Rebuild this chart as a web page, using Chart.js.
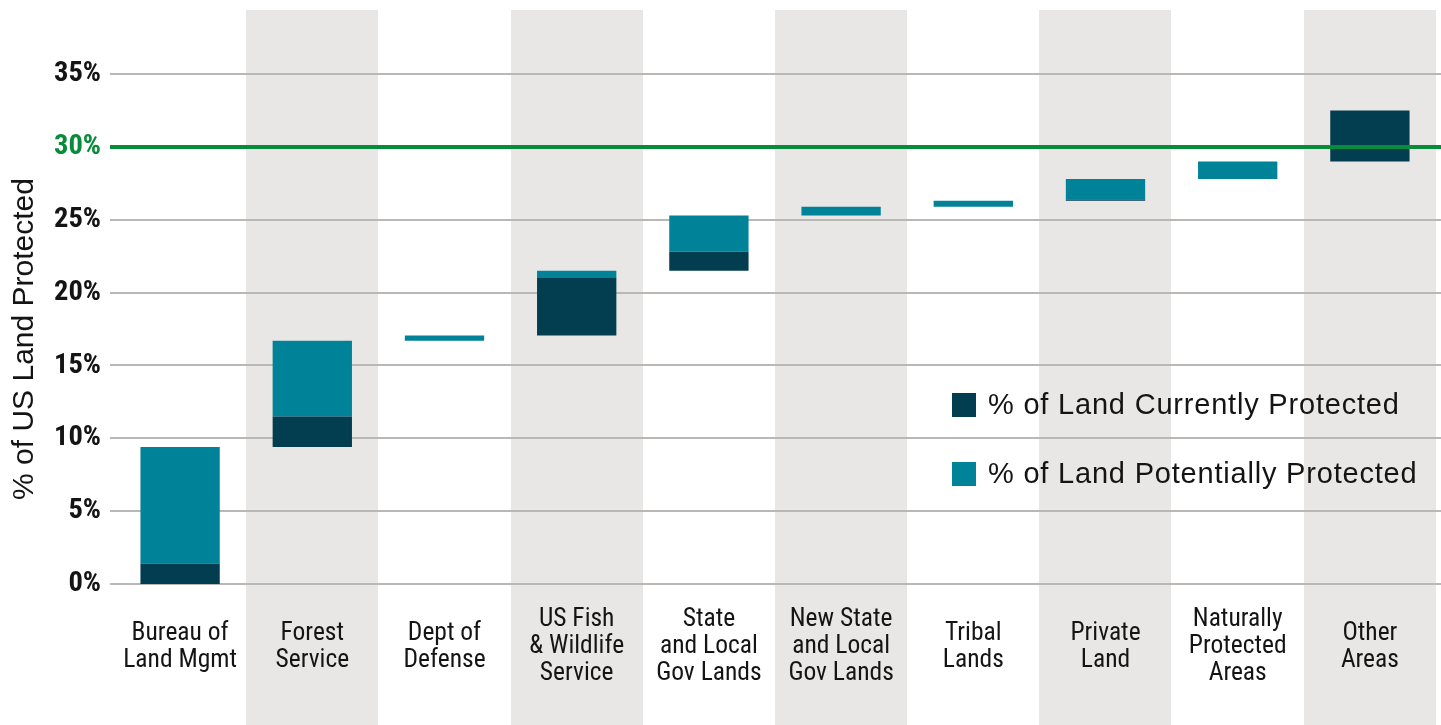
<!DOCTYPE html>
<html><head><meta charset="utf-8">
<script src="https://cdn.jsdelivr.net/npm/chart.js@4.4.1/dist/chart.umd.min.js"></script>
<style>html,body{margin:0;padding:0;background:#fff;overflow:hidden}#wrap{width:1441px;height:725px;position:relative}</style>
</head><body><div id="wrap"><canvas id="c" width="1441" height="725"></canvas></div>
<script>
const categories = [["Bureau of","Land Mgmt"],["Forest","Service"],["Dept of","Defense"],["US Fish","& Wildlife","Service"],["State","and Local","Gov Lands"],["New State","and Local","Gov Lands"],["Tribal","Lands"],["Private","Land"],["Naturally","Protected","Areas"],["Other","Areas"]];
const currentlyProtected   = [1.4, 2.1, 0,    3.95, 1.3, 0,   0,   0.1, 0,   3.5];
const potentiallyProtected = [8.0, 5.2, 0.35, 0.5,  2.5, 0.6, 0.4, 1.4, 1.2, 0];
const yTickValues = [0, 5, 10, 15, 20, 25, 30, 35];
const targetLevel = 30;
const seriesLabels = ["% of Land Currently Protected", "% of Land Potentially Protected"];
const seriesColors = ["#033d50", "#008299"];

// waterfall ranges built from the amounts above
const currentRanges = [], potentialRanges = [];
let running = 0;
for (let i = 0; i < categories.length; i++) {
  const a = running, b = a + currentlyProtected[i], c = b + potentiallyProtected[i];
  currentRanges.push(currentlyProtected[i] > 0 ? [a, b] : null);
  potentialRanges.push(potentiallyProtected[i] > 0 ? [b, c] : null);
  running = c;
}

const NARROW = "'Liberation Sans Narrow', 'Roboto Condensed', 'Roboto', sans-serif";
const SANS = "'Liberation Sans', 'Helvetica', sans-serif";
const TEXT = "#141414";

const decor = {
  id: 'decor',
  beforeDraw(chart) {
    const {ctx, scales: {x}} = chart;
    const w = x.getPixelForValue(1) - x.getPixelForValue(0);
    ctx.save();
    ctx.fillStyle = '#e8e7e5';
    for (let i = 1; i < categories.length; i += 2) {
      const cx = x.getPixelForValue(i);
      ctx.fillRect(Math.round(cx - w / 2), 10, Math.round(w), chart.height - 10);
    }
    ctx.restore();
  },
  beforeDatasetsDraw(chart) {
    const {ctx, scales: {y}} = chart;
    ctx.save();
    ctx.strokeStyle = '#bab8b5';
    ctx.lineWidth = 2;
    yTickValues.forEach(v => {
      if (v === targetLevel) return;
      const py = Math.round(y.getPixelForValue(v));
      ctx.beginPath(); ctx.moveTo(110, py); ctx.lineTo(chart.width, py); ctx.stroke();
    });
    ctx.restore();
  },
  afterDatasetsDraw(chart) {
    const {ctx, scales: {y}} = chart;
    const py = y.getPixelForValue(targetLevel);
    ctx.save();
    ctx.strokeStyle = '#088c3a';
    ctx.lineWidth = 4;
    ctx.beginPath(); ctx.moveTo(110, py); ctx.lineTo(chart.width, py); ctx.stroke();
    ctx.restore();
  },
  afterDraw(chart) {
    const {ctx} = chart;
    ctx.save();
    // y axis title
    ctx.translate(25, 339);
    ctx.rotate(-Math.PI / 2);
    ctx.fillStyle = TEXT;
    ctx.font = "30px " + SANS;
    ctx.textAlign = 'center';
    ctx.textBaseline = 'middle';
    ctx.fillText("% of US Land Protected", 0, 0);
    ctx.restore();
    // legend
    ctx.save();
    ctx.font = "29px " + SANS;
    ctx.letterSpacing = '0.8px';
    ctx.textBaseline = 'middle';
    ctx.textAlign = 'left';
    chart.data.datasets.forEach((ds, i) => {
      const cy = 405 + i * 69;
      ctx.fillStyle = ds.backgroundColor;
      ctx.fillRect(952, cy - 12, 24, 24);
      ctx.fillStyle = TEXT;
      ctx.fillText(ds.label, 988, cy + 1);
    });
    ctx.restore();
  }
};

new Chart(document.getElementById('c'), {
  type: 'bar',
  data: {
    labels: categories,
    datasets: [
      {label: seriesLabels[0], data: currentRanges, backgroundColor: seriesColors[0]},
      {label: seriesLabels[1], data: potentialRanges, backgroundColor: seriesColors[1]}
    ]
  },
  options: {
    responsive: false,
    animation: false,
    devicePixelRatio: 1,
    layout: {padding: {top: 10, right: 5, left: 0, bottom: 0}},
    datasets: {bar: {categoryPercentage: 1, barPercentage: 0.6, borderWidth: 0}},
    plugins: {legend: {display: false}, tooltip: {enabled: false}},
    scales: {
      x: {
        stacked: true,
        grid: {display: false, drawTicks: false},
        border: {display: false},
        ticks: {
          font: {family: NARROW, size: 25.5, lineHeight: 1.06},
          color: TEXT, padding: 36, crossAlign: 'center', maxRotation: 0, minRotation: 0, autoSkip: false
        },
        afterFit(s) { s.height = 141; s.paddingLeft = 0; s.paddingRight = 0; }
      },
      y: {
        min: 0, max: 39.4,
        grid: {display: false, drawTicks: false},
        border: {display: false},
        ticks: {
          padding: 13,
          font: {family: NARROW, size: 28.5, weight: 'bold'},
          color: c => c.tick && c.tick.value === targetLevel ? '#088c3a' : TEXT,
          callback: v => v + '%'
        },
        afterBuildTicks(s) { s.ticks = yTickValues.map(v => ({value: v})); },
        afterFit(s) { s.width = 114; s.paddingTop = 0; s.paddingBottom = 0; }
      }
    }
  },
  plugins: [decor]
});
</script>
</body></html>
